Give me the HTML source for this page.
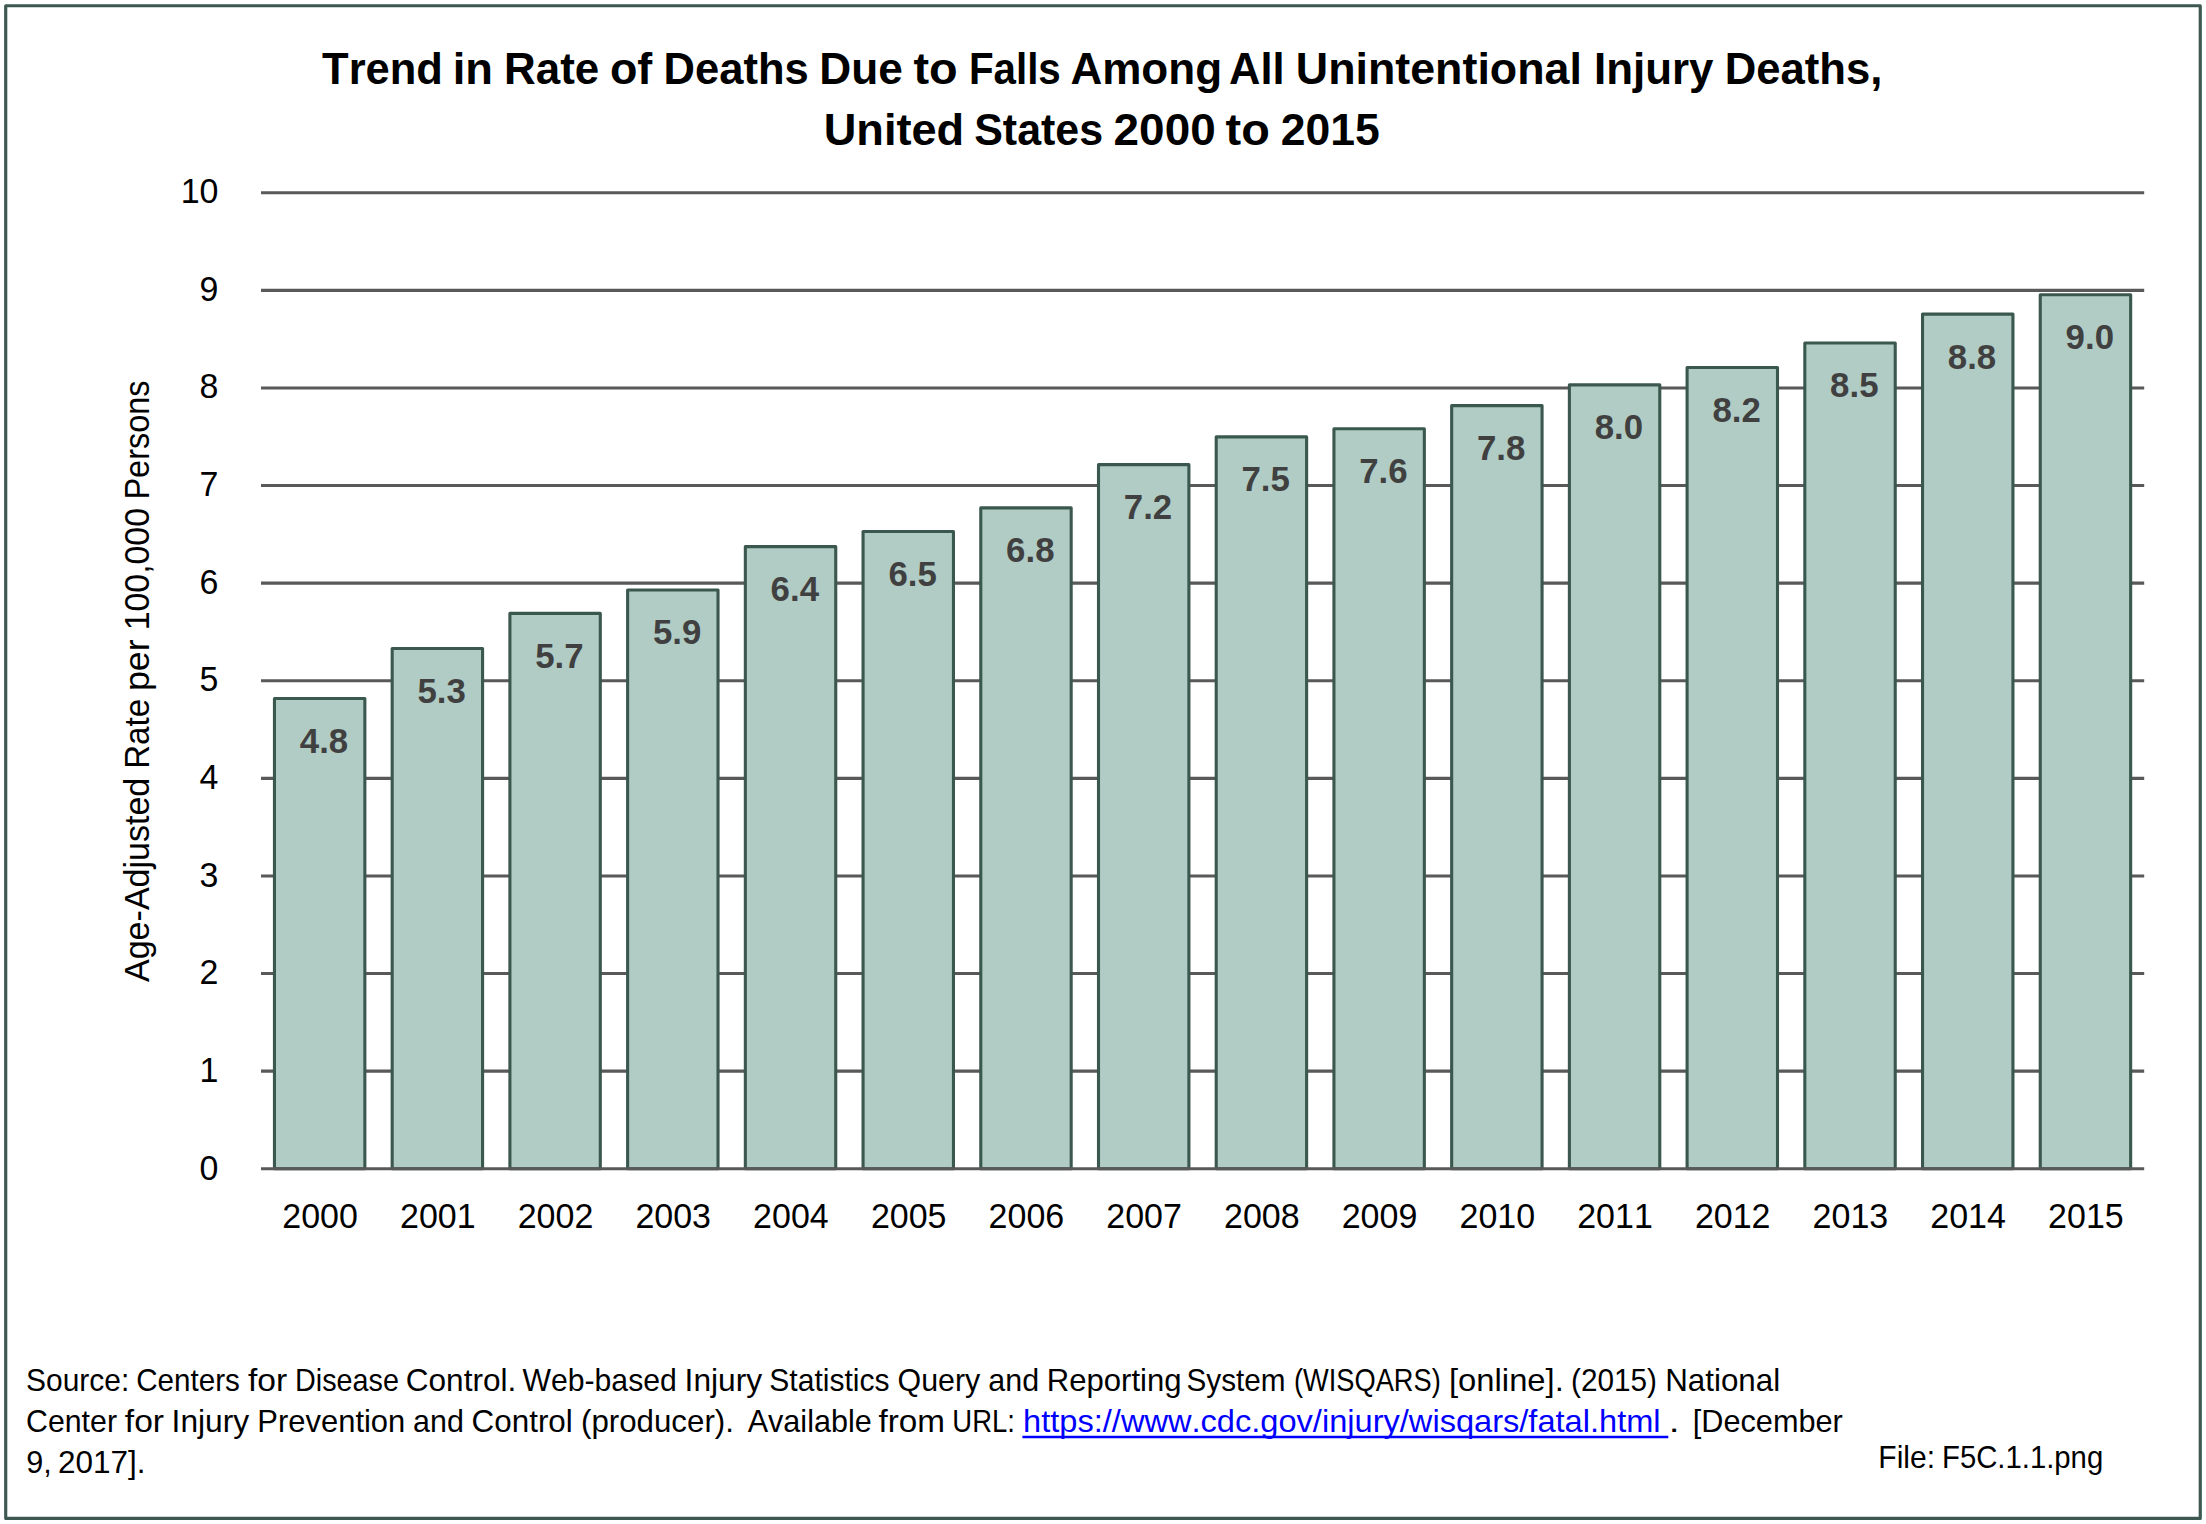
<!DOCTYPE html>
<html lang="en">
<head>
<meta charset="utf-8">
<title>Trend in Rate of Deaths Due to Falls</title>
<style>
html,body{margin:0;padding:0;background:#fff;}
body{width:2206px;height:1524px;overflow:hidden;}
svg{display:block;}
text{font-family:"Liberation Sans", sans-serif;font-kerning:none;}
.ax{font-size:34.7px;fill:#000;}
.num{font-size:35.3px;fill:#000;}
.dl{font-size:34.8px;font-weight:bold;fill:#404040;}
.ttl{font-size:44px;font-weight:bold;fill:#000;}
.src{font-size:31.2px;fill:#000;}
.lnk{fill:#0000ff;}
</style>
</head>
<body>
<svg width="2206" height="1524" viewBox="0 0 2206 1524">
<rect x="0" y="0" width="2206" height="1524" fill="#ffffff"/>
<rect x="5.72" y="5.72" width="2194.53" height="1512.7" fill="none" stroke="#3c5850" stroke-width="3.15" stroke-linejoin="round"/>
<text class="ttl" y="84"><tspan x="322.1" textLength="120.8" lengthAdjust="spacingAndGlyphs">Trend</tspan> <tspan x="452.8" textLength="40.2" lengthAdjust="spacingAndGlyphs">in</tspan> <tspan x="504.0" textLength="95.2" lengthAdjust="spacingAndGlyphs">Rate</tspan> <tspan x="609.9" textLength="42.4" lengthAdjust="spacingAndGlyphs">of</tspan> <tspan x="663.6" textLength="145.1" lengthAdjust="spacingAndGlyphs">Deaths</tspan> <tspan x="819.3" textLength="83.5" lengthAdjust="spacingAndGlyphs">Due</tspan> <tspan x="913.5" textLength="44.2" lengthAdjust="spacingAndGlyphs">to</tspan> <tspan x="968.9" textLength="91.9" lengthAdjust="spacingAndGlyphs">Falls</tspan> <tspan x="1070.4" textLength="151.7" lengthAdjust="spacingAndGlyphs">Among</tspan> <tspan x="1229.1" textLength="55.5" lengthAdjust="spacingAndGlyphs">All</tspan> <tspan x="1295.8" textLength="286.1" lengthAdjust="spacingAndGlyphs">Unintentional</tspan> <tspan x="1594.0" textLength="119.4" lengthAdjust="spacingAndGlyphs">Injury</tspan> <tspan x="1724.7" textLength="157.7" lengthAdjust="spacingAndGlyphs">Deaths,</tspan></text>
<text class="ttl" y="144.6"><tspan x="823.7" textLength="140.5" lengthAdjust="spacingAndGlyphs">United</tspan> <tspan x="974.2" textLength="128.9" lengthAdjust="spacingAndGlyphs">States</tspan> <tspan x="1113.6" textLength="102.1" lengthAdjust="spacingAndGlyphs">2000</tspan> <tspan x="1225.6" textLength="44.2" lengthAdjust="spacingAndGlyphs">to</tspan> <tspan x="1280.8" textLength="99.0" lengthAdjust="spacingAndGlyphs">2015</tspan></text>
<line x1="261.0" y1="1071.11" x2="2144.2" y2="1071.11" stroke="#595959" stroke-width="3.1"/>
<line x1="261.0" y1="973.52" x2="2144.2" y2="973.52" stroke="#595959" stroke-width="3.1"/>
<line x1="261.0" y1="875.93" x2="2144.2" y2="875.93" stroke="#595959" stroke-width="3.1"/>
<line x1="261.0" y1="778.34" x2="2144.2" y2="778.34" stroke="#595959" stroke-width="3.1"/>
<line x1="261.0" y1="680.75" x2="2144.2" y2="680.75" stroke="#595959" stroke-width="3.1"/>
<line x1="261.0" y1="583.16" x2="2144.2" y2="583.16" stroke="#595959" stroke-width="3.1"/>
<line x1="261.0" y1="485.57" x2="2144.2" y2="485.57" stroke="#595959" stroke-width="3.1"/>
<line x1="261.0" y1="387.98" x2="2144.2" y2="387.98" stroke="#595959" stroke-width="3.1"/>
<line x1="261.0" y1="290.39" x2="2144.2" y2="290.39" stroke="#595959" stroke-width="3.1"/>
<line x1="261.0" y1="192.80" x2="2144.2" y2="192.80" stroke="#595959" stroke-width="3.1"/>
<rect x="274.46" y="698.50" width="90.40" height="470.20" fill="#b1ccc5" stroke="#3b584f" stroke-width="3.1" stroke-linejoin="round"/>
<rect x="392.18" y="648.50" width="90.40" height="520.20" fill="#b1ccc5" stroke="#3b584f" stroke-width="3.1" stroke-linejoin="round"/>
<rect x="509.90" y="613.40" width="90.40" height="555.30" fill="#b1ccc5" stroke="#3b584f" stroke-width="3.1" stroke-linejoin="round"/>
<rect x="627.62" y="590.00" width="90.40" height="578.70" fill="#b1ccc5" stroke="#3b584f" stroke-width="3.1" stroke-linejoin="round"/>
<rect x="745.34" y="546.60" width="90.40" height="622.10" fill="#b1ccc5" stroke="#3b584f" stroke-width="3.1" stroke-linejoin="round"/>
<rect x="863.06" y="531.50" width="90.40" height="637.20" fill="#b1ccc5" stroke="#3b584f" stroke-width="3.1" stroke-linejoin="round"/>
<rect x="980.78" y="507.90" width="90.40" height="660.80" fill="#b1ccc5" stroke="#3b584f" stroke-width="3.1" stroke-linejoin="round"/>
<rect x="1098.50" y="464.60" width="90.40" height="704.10" fill="#b1ccc5" stroke="#3b584f" stroke-width="3.1" stroke-linejoin="round"/>
<rect x="1216.22" y="436.90" width="90.40" height="731.80" fill="#b1ccc5" stroke="#3b584f" stroke-width="3.1" stroke-linejoin="round"/>
<rect x="1333.94" y="428.70" width="90.40" height="740.00" fill="#b1ccc5" stroke="#3b584f" stroke-width="3.1" stroke-linejoin="round"/>
<rect x="1451.66" y="405.60" width="90.40" height="763.10" fill="#b1ccc5" stroke="#3b584f" stroke-width="3.1" stroke-linejoin="round"/>
<rect x="1569.38" y="384.90" width="90.40" height="783.80" fill="#b1ccc5" stroke="#3b584f" stroke-width="3.1" stroke-linejoin="round"/>
<rect x="1687.10" y="367.50" width="90.40" height="801.20" fill="#b1ccc5" stroke="#3b584f" stroke-width="3.1" stroke-linejoin="round"/>
<rect x="1804.82" y="343.00" width="90.40" height="825.70" fill="#b1ccc5" stroke="#3b584f" stroke-width="3.1" stroke-linejoin="round"/>
<rect x="1922.54" y="314.10" width="90.40" height="854.60" fill="#b1ccc5" stroke="#3b584f" stroke-width="3.1" stroke-linejoin="round"/>
<rect x="2040.26" y="294.80" width="90.40" height="873.90" fill="#b1ccc5" stroke="#3b584f" stroke-width="3.1" stroke-linejoin="round"/>
<line x1="261.0" y1="1168.70" x2="2144.2" y2="1168.70" stroke="#595959" stroke-width="3.1"/>
<text class="dl" x="324.0" y="752.9" text-anchor="middle">4.8</text>
<text class="dl" x="441.7" y="702.9" text-anchor="middle">5.3</text>
<text class="dl" x="559.4" y="667.8" text-anchor="middle">5.7</text>
<text class="dl" x="677.1" y="644.4" text-anchor="middle">5.9</text>
<text class="dl" x="794.8" y="601.0" text-anchor="middle">6.4</text>
<text class="dl" x="912.6" y="585.9" text-anchor="middle">6.5</text>
<text class="dl" x="1030.3" y="562.3" text-anchor="middle">6.8</text>
<text class="dl" x="1148.0" y="519.0" text-anchor="middle">7.2</text>
<text class="dl" x="1265.7" y="491.3" text-anchor="middle">7.5</text>
<text class="dl" x="1383.4" y="483.1" text-anchor="middle">7.6</text>
<text class="dl" x="1501.2" y="460.0" text-anchor="middle">7.8</text>
<text class="dl" x="1618.9" y="439.3" text-anchor="middle">8.0</text>
<text class="dl" x="1736.6" y="421.9" text-anchor="middle">8.2</text>
<text class="dl" x="1854.3" y="397.4" text-anchor="middle">8.5</text>
<text class="dl" x="1972.0" y="368.5" text-anchor="middle">8.8</text>
<text class="dl" x="2089.8" y="349.2" text-anchor="middle">9.0</text>
<text class="num" x="199.6" y="1179.8" textLength="18.9" lengthAdjust="spacingAndGlyphs">0</text>
<text class="num" x="199.6" y="1082.1" textLength="18.9" lengthAdjust="spacingAndGlyphs">1</text>
<text class="num" x="199.6" y="984.4" textLength="18.9" lengthAdjust="spacingAndGlyphs">2</text>
<text class="num" x="199.6" y="886.8" textLength="18.9" lengthAdjust="spacingAndGlyphs">3</text>
<text class="num" x="199.6" y="789.1" textLength="18.9" lengthAdjust="spacingAndGlyphs">4</text>
<text class="num" x="199.6" y="691.4" textLength="18.9" lengthAdjust="spacingAndGlyphs">5</text>
<text class="num" x="199.6" y="593.7" textLength="18.9" lengthAdjust="spacingAndGlyphs">6</text>
<text class="num" x="199.6" y="496.0" textLength="18.9" lengthAdjust="spacingAndGlyphs">7</text>
<text class="num" x="199.6" y="398.4" textLength="18.9" lengthAdjust="spacingAndGlyphs">8</text>
<text class="num" x="199.6" y="300.7" textLength="18.9" lengthAdjust="spacingAndGlyphs">9</text>
<text class="num" x="180.7" y="203.0" textLength="37.8" lengthAdjust="spacingAndGlyphs">10</text>
<text class="num" x="282.3" y="1228.3" textLength="75.6" lengthAdjust="spacingAndGlyphs">2000</text>
<text class="num" x="400.0" y="1228.3" textLength="75.6" lengthAdjust="spacingAndGlyphs">2001</text>
<text class="num" x="517.7" y="1228.3" textLength="75.6" lengthAdjust="spacingAndGlyphs">2002</text>
<text class="num" x="635.4" y="1228.3" textLength="75.6" lengthAdjust="spacingAndGlyphs">2003</text>
<text class="num" x="753.1" y="1228.3" textLength="75.6" lengthAdjust="spacingAndGlyphs">2004</text>
<text class="num" x="870.9" y="1228.3" textLength="75.6" lengthAdjust="spacingAndGlyphs">2005</text>
<text class="num" x="988.6" y="1228.3" textLength="75.6" lengthAdjust="spacingAndGlyphs">2006</text>
<text class="num" x="1106.3" y="1228.3" textLength="75.6" lengthAdjust="spacingAndGlyphs">2007</text>
<text class="num" x="1224.0" y="1228.3" textLength="75.6" lengthAdjust="spacingAndGlyphs">2008</text>
<text class="num" x="1341.7" y="1228.3" textLength="75.6" lengthAdjust="spacingAndGlyphs">2009</text>
<text class="num" x="1459.5" y="1228.3" textLength="75.6" lengthAdjust="spacingAndGlyphs">2010</text>
<text class="num" x="1577.2" y="1228.3" textLength="75.6" lengthAdjust="spacingAndGlyphs">2011</text>
<text class="num" x="1694.9" y="1228.3" textLength="75.6" lengthAdjust="spacingAndGlyphs">2012</text>
<text class="num" x="1812.6" y="1228.3" textLength="75.6" lengthAdjust="spacingAndGlyphs">2013</text>
<text class="num" x="1930.3" y="1228.3" textLength="75.6" lengthAdjust="spacingAndGlyphs">2014</text>
<text class="num" x="2048.1" y="1228.3" textLength="75.6" lengthAdjust="spacingAndGlyphs">2015</text>
<text class="ax" transform="translate(148.6,982) rotate(-90)" y="0"><tspan x="0.0" textLength="204.3" lengthAdjust="spacingAndGlyphs">Age-Adjusted</tspan> <tspan x="213.2" textLength="69.9" lengthAdjust="spacingAndGlyphs">Rate</tspan> <tspan x="290.9" textLength="51.9" lengthAdjust="spacingAndGlyphs">per</tspan> <tspan x="351.7" textLength="122.3" lengthAdjust="spacingAndGlyphs">100,000</tspan> <tspan x="482.4" textLength="119.2" lengthAdjust="spacingAndGlyphs">Persons</tspan></text>
<text class="src" y="1390.8"><tspan x="26.0" textLength="103.2" lengthAdjust="spacingAndGlyphs">Source:</tspan> <tspan x="136.2" textLength="103.7" lengthAdjust="spacingAndGlyphs">Centers</tspan> <tspan x="247.9" textLength="39.2" lengthAdjust="spacingAndGlyphs">for</tspan> <tspan x="295.0" textLength="103.9" lengthAdjust="spacingAndGlyphs">Disease</tspan> <tspan x="405.7" textLength="110.6" lengthAdjust="spacingAndGlyphs">Control.</tspan> <tspan x="522.5" textLength="154.3" lengthAdjust="spacingAndGlyphs">Web-based</tspan> <tspan x="684.6" textLength="77.6" lengthAdjust="spacingAndGlyphs">Injury</tspan> <tspan x="769.3" textLength="120.2" lengthAdjust="spacingAndGlyphs">Statistics</tspan> <tspan x="897.6" textLength="82.7" lengthAdjust="spacingAndGlyphs">Query</tspan> <tspan x="988.3" textLength="50.8" lengthAdjust="spacingAndGlyphs">and</tspan> <tspan x="1046.8" textLength="134.8" lengthAdjust="spacingAndGlyphs">Reporting</tspan> <tspan x="1186.5" textLength="99.0" lengthAdjust="spacingAndGlyphs">System</tspan> <tspan x="1294.0" textLength="146.7" lengthAdjust="spacingAndGlyphs">(WISQARS)</tspan> <tspan x="1449.0" textLength="114.8" lengthAdjust="spacingAndGlyphs">[online].</tspan> <tspan x="1571.0" textLength="85.9" lengthAdjust="spacingAndGlyphs">(2015)</tspan> <tspan x="1665.2" textLength="115.0" lengthAdjust="spacingAndGlyphs">National</tspan></text>
<text class="src" y="1432"><tspan x="26.0" textLength="91.0" lengthAdjust="spacingAndGlyphs">Center</tspan> <tspan x="124.8" textLength="39.2" lengthAdjust="spacingAndGlyphs">for</tspan> <tspan x="171.6" textLength="77.6" lengthAdjust="spacingAndGlyphs">Injury</tspan> <tspan x="257.3" textLength="148.0" lengthAdjust="spacingAndGlyphs">Prevention</tspan> <tspan x="413.1" textLength="50.8" lengthAdjust="spacingAndGlyphs">and</tspan> <tspan x="471.6" textLength="101.2" lengthAdjust="spacingAndGlyphs">Control</tspan> <tspan x="581.0" textLength="152.9" lengthAdjust="spacingAndGlyphs">(producer).</tspan> <tspan x="747.7" textLength="124.0" lengthAdjust="spacingAndGlyphs">Available</tspan> <tspan x="878.5" textLength="66.5" lengthAdjust="spacingAndGlyphs">from</tspan> <tspan x="952.3" textLength="62.6" lengthAdjust="spacingAndGlyphs">URL:</tspan> <tspan class="lnk"><tspan x="1023.1" textLength="637.5" lengthAdjust="spacingAndGlyphs">https://www.cdc.gov/injury/wisqars/fatal.html</tspan></tspan> <tspan x="1668.8" textLength="10.8" lengthAdjust="spacingAndGlyphs">.</tspan> <tspan x="1692.8" textLength="150.0" lengthAdjust="spacingAndGlyphs">[December</tspan></text>
<line x1="1022.4" y1="1437" x2="1668.3" y2="1437" stroke="#0000ff" stroke-width="2.4"/>
<text class="src" y="1473.1"><tspan x="26.2" textLength="25.5" lengthAdjust="spacingAndGlyphs">9,</tspan> <tspan x="57.9" textLength="87.5" lengthAdjust="spacingAndGlyphs">2017].</tspan></text>
<text class="src" y="1467.9"><tspan x="1878.3" textLength="56.7" lengthAdjust="spacingAndGlyphs">File:</tspan> <tspan x="1942.0" textLength="161.2" lengthAdjust="spacingAndGlyphs">F5C.1.1.png</tspan></text>
</svg>
</body>
</html>
